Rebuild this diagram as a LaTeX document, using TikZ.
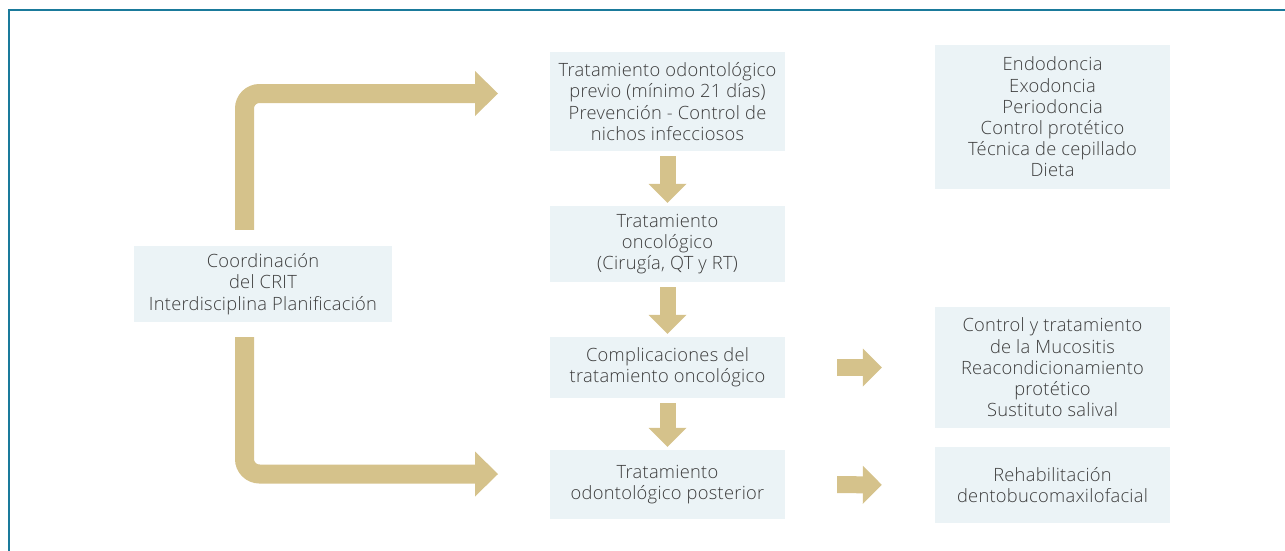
\documentclass[tikz,border=0pt]{standalone}
\usepackage{fontspec}
\setmainfont{Open Sans}[UprightFont=* Light, LetterSpace=1.5]
\usetikzlibrary{arrows.meta}
\definecolor{gold}{RGB}{213,194,139}
\definecolor{boxfill}{RGB}{235,243,246}
\definecolor{frameblue}{RGB}{26,122,155}
\definecolor{txt}{RGB}{60,60,60}
\begin{document}
\begin{tikzpicture}[x=1pt,y=-1pt,
  box/.style={fill=boxfill, inner sep=0pt, align=center, text=txt, font=\fontsize{18.3}{21.2}\selectfont},
  elbow/.style={draw=gold, line width=19pt, rounded corners=15pt, -{Triangle[length={23pt 0}, width={45pt 0}, line width=0pt]}},
  downarr/.style={draw=gold, line width=16pt, -{Triangle[length={19pt 0}, width={38pt 0}, line width=0pt]}, shorten <=5pt, shorten >=3pt},
  rightarr/.style={draw=gold, line width=17pt, -{Triangle[length={19pt 0}, width={38pt 0}, line width=0pt]}, shorten <=52pt, shorten >=53pt}
]
\useasboundingbox (0,0) rectangle (1285,550);
\draw[frameblue, line width=2pt] (9,552) -- (9,10) -- (1287,10);

\node[box, minimum width=258pt, minimum height=76pt] (lbox) at (263,284) {Coordinación\\del CRIT\\Interdisciplina Planificación};

\node[box, minimum width=235pt, minimum height=99pt] (b1) at (667.5,101.5) {Tratamiento odontológico\\previo (mínimo 21 días)\\Prevención - Control de\\nichos infecciosos};
\node[box, minimum width=235pt, minimum height=76pt] (b2) at (667.5,244) {Tratamiento\\oncológico\\(Cirugía, QT y RT)};
\node[box, minimum width=235pt, minimum height=61pt] (b3) at (667.5,367.5) {Complicaciones del\\tratamiento oncológico};
\node[box, minimum width=235pt, minimum height=69pt] (b4) at (667.5,484.5) {Tratamiento\\odontológico posterior};

\node[box, minimum width=235pt, minimum height=144pt] (r1) at (1052.5,117) {Endodoncia\\Exodoncia\\Periodoncia\\Control protético\\Técnica de cepillado\\Dieta};
\node[box, minimum width=235pt, minimum height=121pt] (r2) at (1052.5,367.5) {Control y tratamiento\\de la Mucositis\\Reacondicionamiento\\protético\\Sustituto salival};
\node[box, minimum width=235pt, minimum height=76pt] (r3) at (1052.5,485) {Rehabilitación\\dentobucomaxilofacial};

\coordinate (vx) at (244.5,0);
\coordinate (t1) at (498,93.5);
\coordinate (t2) at (498,474);
\draw[elbow, shorten <=16pt] (lbox.north -| vx) |- (t1);
\draw[elbow, shorten <=15pt] (lbox.south -| vx) |- (t2);

\draw[downarr] (b1) -- (b2);
\draw[downarr] (b2) -- (b3);
\draw[downarr] (b3) -- (b4);

\draw[rightarr] (b3.east) -- (r2.west);
\draw[rightarr] (b4.east) -- (r3.west);
\end{tikzpicture}
\end{document}
